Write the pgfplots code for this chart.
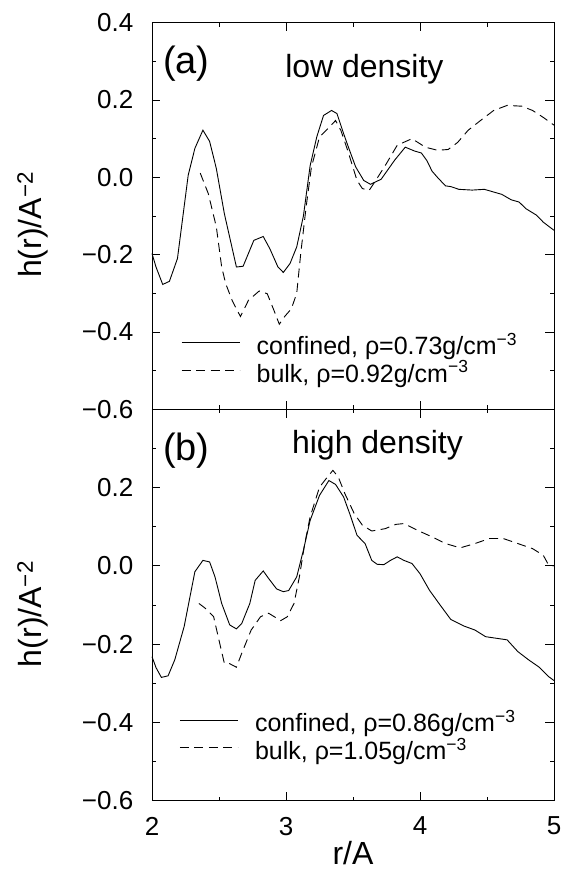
\documentclass[border=0pt]{standalone}
\usepackage{fontspec}
\setmainfont{Liberation Sans}
\usepackage{pgfplots}
\pgfplotsset{compat=1.18}

\pgfplotsset{
  hpanel/.style={
    scale only axis,
    width=402pt,
    xmin=2, xmax=5,
    ymin=-0.6, ymax=0.4,
    xtick={2,3,4,5},
    minor xtick={2.5,3.5,4.5},
    ytick={-0.6,-0.4,-0.2,0,0.2,0.4},
    minor ytick={-0.5,-0.3,-0.1,0.1,0.3},
    tick align=inside,
    major tick length=8.5pt,
    minor tick length=4pt,
    axis line style={line width=0.8pt},
    every tick/.style={black, line width=0.8pt},
    tick label style={font=\fontsize{26}{30}\selectfont},
    yticklabel style={inner sep=0pt, xshift=-18.5pt},
    xticklabel style={inner sep=0pt, yshift=-16pt},
    ylabel={h(r)/A\textsuperscript{−2}},
    ylabel style={font=\fontsize{32}{36}\selectfont, inner sep=0pt,
      at={(axis description cs:-0.257,0.477)}, anchor=south, rotate=0},
    legend cell align=left,
    legend style={draw=none, fill=none, inner sep=0pt, anchor=west,
      font=\fontsize{25}{30}\selectfont, nodes={inner sep=0pt},
      column sep=16.6pt, row sep=5pt},
    legend image code/.code={\draw[#1] (0pt,1.5pt) -- (58pt,1.5pt);},
    clip=false,
  },
  solidc/.style={black, line width=0.9pt},
  dashc/.style={black, line width=0.9pt, dash pattern=on 9pt off 5.5pt},
}

\begin{document}
\begin{tikzpicture}
% (a) low density
\begin{axis}[hpanel, name=top, at={(0pt,391.4pt)}, anchor=south west,
  height=386.6pt, xticklabels={},
  yticklabels={−0.6,−0.4,−0.2,0.0,0.2,0.4},
  legend style={at={(rel axis cs:0.072,0.132)}}]
\addplot[solidc] coordinates {
(2.00,-0.197) (2.03,-0.232) (2.08,-0.277) (2.13,-0.269) (2.19,-0.21)
(2.27,0.005) (2.32,0.075) (2.38,0.122) (2.43,0.093) (2.48,0.023)
(2.54,-0.094) (2.63,-0.232) (2.68,-0.23) (2.76,-0.163) (2.83,-0.153)
(2.88,-0.185) (2.94,-0.232) (2.98,-0.246) (3.03,-0.223) (3.08,-0.18)
(3.13,-0.10) (3.18,0.03) (3.23,0.105) (3.28,0.16) (3.34,0.173)
(3.38,0.165) (3.43,0.113) (3.47,0.074) (3.52,0.027) (3.58,-0.008)
(3.63,-0.018) (3.71,-0.005) (3.81,0.044) (3.89,0.078) (3.96,0.068)
(4.01,0.063) (4.05,0.044) (4.09,0.016) (4.13,0.0) (4.19,-0.022)
(4.23,-0.024) (4.29,-0.031) (4.39,-0.033) (4.48,-0.031) (4.55,-0.038)
(4.61,-0.044) (4.68,-0.058) (4.74,-0.064) (4.79,-0.081) (4.87,-0.098)
(4.92,-0.116) (5.00,-0.137)
};
\addlegendentry{confined, ρ=0.73g/cm\textsuperscript{−3}}
\addplot[dashc] coordinates {
(2.36,0.011) (2.42,-0.042) (2.48,-0.128) (2.52,-0.232) (2.55,-0.275)
(2.60,-0.32) (2.66,-0.36) (2.72,-0.318) (2.80,-0.294) (2.86,-0.301)
(2.91,-0.344) (2.95,-0.38) (2.99,-0.36) (3.04,-0.34) (3.08,-0.30)
(3.11,-0.197) (3.15,-0.077) (3.19,0.027) (3.25,0.104) (3.29,0.118)
(3.37,0.147) (3.41,0.121) (3.46,0.07) (3.53,-0.008) (3.57,-0.029)
(3.62,-0.034) (3.67,-0.008) (3.75,0.036) (3.83,0.083) (3.94,0.10)
(4.04,0.078) (4.13,0.07) (4.21,0.072) (4.28,0.09) (4.36,0.122)
(4.47,0.152) (4.55,0.173) (4.65,0.186) (4.76,0.184) (4.84,0.173)
(4.92,0.155) (5.00,0.135)
};
\addlegendentry{bulk, ρ=0.92g/cm\textsuperscript{−3}}
\node[inner sep=0pt, anchor=base west, font=\fontsize{38}{42}\selectfont]
  at (rel axis cs:0.0274,0.869) {(a)};
\node[inner sep=0pt, anchor=base west, font=\fontsize{32}{36}\selectfont]
  at (rel axis cs:0.331,0.857) {low density};
\end{axis}

% (b) high density
\begin{axis}[hpanel, name=bot, at={(0pt,0pt)}, anchor=south west,
  height=391.4pt,
  xticklabels={2,3,4,5},
  yticklabels={−0.6,−0.4,−0.2,0.0,0.2,{}},
  xlabel={r/A},
  xlabel style={font=\fontsize{32}{36}\selectfont, inner sep=0pt,
    at={(axis description cs:0.5,-0.102)}, anchor=north},
  legend style={at={(rel axis cs:0.068,0.1666)}}]
\addplot[solidc] coordinates {
(2.00,-0.232) (2.03,-0.26) (2.07,-0.285) (2.12,-0.281) (2.17,-0.24)
(2.24,-0.155) (2.32,-0.015) (2.38,0.014) (2.43,0.010) (2.47,-0.028)
(2.52,-0.096) (2.58,-0.151) (2.63,-0.161) (2.67,-0.147) (2.73,-0.096)
(2.77,-0.037) (2.83,-0.013) (2.87,-0.032) (2.93,-0.059) (2.98,-0.066)
(3.02,-0.063) (3.08,-0.028) (3.13,0.04) (3.18,0.116) (3.25,0.18)
(3.32,0.218) (3.37,0.208) (3.43,0.176) (3.48,0.129) (3.53,0.078)
(3.59,0.057) (3.64,0.014) (3.68,0.004) (3.73,0.003) (3.78,0.014)
(3.83,0.023) (3.88,0.014) (3.94,0.006) (4.00,-0.02) (4.07,-0.062)
(4.15,-0.10) (4.23,-0.137) (4.33,-0.154) (4.41,-0.164) (4.49,-0.181)
(4.57,-0.185) (4.65,-0.189) (4.73,-0.219) (4.81,-0.24) (4.89,-0.259)
(4.96,-0.283) (5.00,-0.293)
};
\addlegendentry{confined, ρ=0.86g/cm\textsuperscript{−3}}
\addplot[dashc] coordinates {
(2.35,-0.096) (2.40,-0.109) (2.46,-0.13) (2.50,-0.19) (2.54,-0.249)
(2.58,-0.25) (2.63,-0.259) (2.67,-0.223) (2.74,-0.164) (2.81,-0.13)
(2.87,-0.121) (2.96,-0.14) (3.01,-0.13) (3.06,-0.096) (3.10,-0.028)
(3.14,0.057) (3.18,0.125) (3.25,0.201) (3.30,0.223) (3.35,0.244)
(3.39,0.227) (3.44,0.184) (3.51,0.133) (3.57,0.104) (3.64,0.089)
(3.74,0.095) (3.82,0.106) (3.88,0.108) (3.98,0.091) (4.09,0.074)
(4.19,0.057) (4.30,0.046) (4.41,0.057) (4.52,0.070) (4.62,0.070)
(4.73,0.057) (4.84,0.044) (4.92,0.027) (4.96,0.002) (5.00,0.0)
};
\addlegendentry{bulk, ρ=1.05g/cm\textsuperscript{−3}}
\node[inner sep=0pt, anchor=base west, font=\fontsize{38}{42}\selectfont]
  at (rel axis cs:0.0274,0.868) {(b)};
\node[inner sep=0pt, anchor=base west, font=\fontsize{32}{36}\selectfont]
  at (rel axis cs:0.348,0.886) {high density};
\end{axis}
\pgfresetboundingbox
\path[use as bounding box] (-152pt,-72.3pt) rectangle (411pt,800.7pt);
\end{tikzpicture}
\end{document}
